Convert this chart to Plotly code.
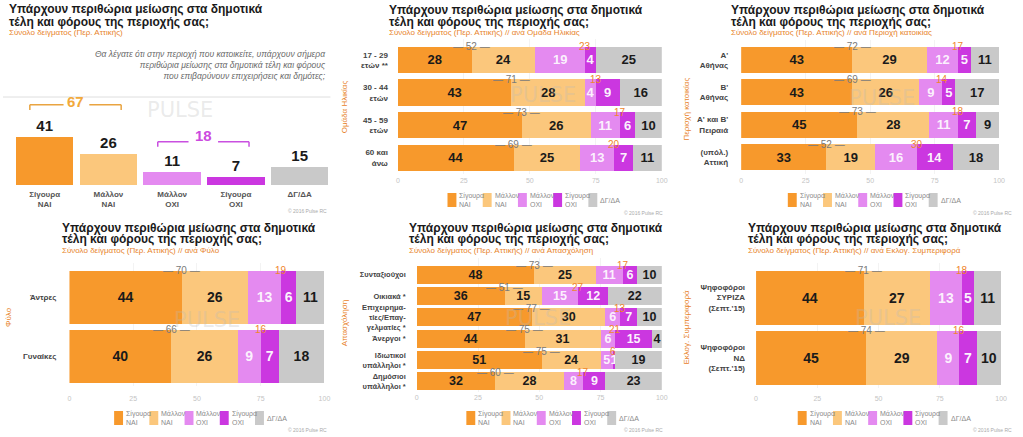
import plotly.graph_objects as go

W, H = 1023, 437
FONT = "Liberation Sans, Arial, sans-serif"

# ---------------- data ----------------
series_names = ["Σίγουρα ΝΑΙ", "Μάλλον ΝΑΙ", "Μάλλον ΟΧΙ", "Σίγουρα ΟΧΙ", "ΔΓ/ΔΑ"]
legend_labels = ["Σίγουρα<br>ΝΑΙ", "Μάλλον<br>ΝΑΙ", "Μάλλον<br>ΟΧΙ", "Σίγουρα<br>ΟΧΙ", "ΔΓ/ΔΑ"]

# Panel 1: total sample
total_categories = ["Σίγουρα<br>ΝΑΙ", "Μάλλον<br>ΝΑΙ", "Μάλλον<br>ΟΧΙ", "Σίγουρα<br>ΟΧΙ", "ΔΓ/ΔΑ"]
total_values = [41, 26, 11, 7, 15]

# Panel 2: age group
age_groups = ["17 - 29<br>ετών **", "30 - 44<br>ετών", "45 - 59<br>ετών", "60 και<br>άνω"]
age_s_nai = [28, 43, 47, 44]
age_m_nai = [24, 28, 26, 25]
age_m_oxi = [19, 4, 11, 13]
age_s_oxi = [4, 9, 6, 7]
age_dk = [25, 16, 10, 11]

# Panel 3: region
region_groups = ["Α'<br>Αθήνας", "Β'<br>Αθήνας", "Α' και Β'<br>Πειραιά", "(υπόλ.)<br>Αττική"]
region_s_nai = [43, 43, 45, 33]
region_m_nai = [29, 26, 28, 19]
region_m_oxi = [12, 9, 11, 16]
region_s_oxi = [5, 5, 7, 14]
region_dk = [11, 17, 9, 18]

# Panel 4: gender
gender_groups = ["Άντρες", "Γυναίκες"]
gender_s_nai = [44, 40]
gender_m_nai = [26, 26]
gender_m_oxi = [13, 9]
gender_s_oxi = [6, 7]
gender_dk = [11, 18]

# Panel 5: occupation
occ_groups = ["Συνταξιούχοι", "Οικιακά *", "Επιχειρημα-<br>τίες/Επαγ-<br>γελματίες *",
              "Άνεργοι *", "Ιδιωτικοί<br>υπάλληλοι *", "Δημόσιοι<br>υπάλληλοι *"]
occ_s_nai = [48, 36, 47, 44, 51, 32]
occ_m_nai = [25, 15, 30, 31, 24, 28]
occ_m_oxi = [11, 15, 6, 6, 5, 8]
occ_s_oxi = [6, 12, 7, 15, 1, 9]
occ_dk = [10, 22, 10, 4, 19, 23]

# Panel 6: vote
vote_groups = ["Ψηφοφόροι<br>ΣΥΡΙΖΑ<br>(Σεπτ.'15)", "Ψηφοφόροι<br>ΝΔ<br>(Σεπτ.'15)"]
vote_s_nai = [44, 45]
vote_m_nai = [27, 29]
vote_m_oxi = [13, 9]
vote_s_oxi = [5, 7]
vote_dk = [11, 10]

x_ticks = [0, 25, 50, 75, 100]

# ---------------- style ----------------
COLORS = ["#F7992C", "#FBC77C", "#E48AF0", "#CB37E0", "#C9C9C9"]
TEXT_COLORS = ["#1a1a1a", "#1a1a1a", "rgba(255,255,255,0.9)", "rgba(255,255,255,0.95)", "#1a1a1a"]
ORANGE_T = "#E8832A"
TITLE_L1 = "Υπάρχουν περιθώρια μείωσης στα δημοτικά"
TITLE_L2 = "τέλη και φόρους της περιοχής σας;"


def px(p):
    return p / W


def py(p):
    return 1 - p / H


fig = go.Figure()
annotations = []
shapes = []


def add_title(x, y1, y2, ys, subtitle):
    for txt, yy in ((TITLE_L1, y1), (TITLE_L2, y2)):
        annotations.append(dict(text="<b>" + txt + "</b>", x=px(x), y=py(yy), xref="paper", yref="paper",
                                xanchor="left", yanchor="middle", showarrow=False,
                                font=dict(family=FONT, size=12, color="#1a1a1a")))
    annotations.append(dict(text=subtitle, x=px(x), y=py(ys), xref="paper", yref="paper",
                            xanchor="left", yanchor="middle", showarrow=False,
                            font=dict(family=FONT, size=8, color=ORANGE_T)))


def add_watermark(x, y):
    annotations.append(dict(text="PULSE", x=px(x), y=py(y), xref="paper", yref="paper",
                            xanchor="center", yanchor="middle", showarrow=False,
                            font=dict(family="DejaVu Sans, sans-serif", size=21, color="rgba(185,185,185,0.3)")))


def add_copyright(x, y):
    annotations.append(dict(text="© 2016 Pulse RC", x=px(x), y=py(y), xref="paper", yref="paper",
                            xanchor="right", yanchor="middle", showarrow=False,
                            font=dict(family=FONT, size=5, color="#aaaaaa")))


def add_legend(x0, y0):
    step = 35.5
    for k in range(5):
        xa = x0 + k * step
        shapes.append(dict(type="rect", xref="paper", yref="paper", x0=px(xa), x1=px(xa + 9),
                           y0=py(y0 + 14), y1=py(y0), fillcolor=COLORS[k], line=dict(width=0)))
        annotations.append(dict(text=legend_labels[k], x=px(xa + 10), y=py(y0 + 7), xref="paper", yref="paper",
                                xanchor="left", yanchor="middle", align="left", showarrow=False,
                                font=dict(family=FONT, size=7, color="#8a8a8a")))


# ---------------- panel 1 (vertical bars) ----------------
fig.add_trace(go.Bar(x=total_categories, y=total_values, marker=dict(color=COLORS, line=dict(width=0)),
                     width=0.9, texttemplate="<b>%{y}</b>", textposition="outside", cliponaxis=False,
                     textfont=dict(family=FONT, size=15, color="#1a1a1a"),
                     xaxis="x", yaxis="y", showlegend=False, hoverinfo="skip"))
layout_axes = {}
layout_axes["xaxis"] = dict(domain=[px(10.9), px(332.1)], anchor="y", type="category",
                            tickfont=dict(family=FONT, size=8, color="#555555", weight="bold"),
                            ticks="", showgrid=False, zeroline=False, showline=False, ticklabelstandoff=3)
layout_axes["yaxis"] = dict(domain=[py(185), py(97)], anchor="x", range=[0, 75], visible=False)

add_title(5, 9.5, 21.5, 32.5, "Σύνολο δείγματος (Περ. Αττικής)")
annotations.append(dict(text="<i>Θα λέγατε ότι στην περιοχή που κατοικείτε, υπάρχουν σήμερα<br>"
                             "περιθώρια μείωσης στα δημοτικά τέλη και φόρους<br>"
                             "που επιβαρύνουν επιχειρήσεις και δημότες;</i>",
                        x=px(329), y=py(47), xref="paper", yref="paper", xanchor="right", yanchor="top",
                        align="right", showarrow=False, font=dict(family=FONT, size=8.5, color="#6a6a6a")))
shapes.append(dict(type="line", xref="paper", yref="paper", x0=px(1), x1=px(331), y0=py(97), y1=py(97),
                   line=dict(color="#dedede", width=1)))

nai_total = total_values[0] + total_values[1]
oxi_total = total_values[2] + total_values[3]
for (xl0, xl1, xr0, xr1, yl, ytk, ytxt, val, col, tcol) in [
    (-0.233, 0.296, 0.70, 1.2, 68.4, 64.0, 70.8, nai_total, "#E9A441", "#F2A93A"),
    (1.774, 2.257, 2.72, 3.206, 36.9, 32.6, 41.8, oxi_total, "#C950E0", "#CC4ADF"),
]:
    for seg in ((xl0, xl1), (xr0, xr1)):
        shapes.append(dict(type="line", xref="x", yref="y", x0=seg[0], x1=seg[1], y0=yl, y1=yl,
                           line=dict(color=col, width=1.5)))
    for xt in (xl0, xr1):
        shapes.append(dict(type="line", xref="x", yref="y", x0=xt, x1=xt, y0=yl, y1=ytk,
                           line=dict(color=col, width=1.5)))
    annotations.append(dict(text="<b>%d</b>" % val, x=(xl0 + xr1) / 2, y=ytxt, xref="x", yref="y",
                            xanchor="center", yanchor="middle", showarrow=False,
                            font=dict(family=FONT, size=15, color=tcol)))
add_watermark(179, 110)
add_copyright(330, 211)

# ---------------- horizontal panels ----------------
panels = [
    dict(n=2, cats=age_groups, data=[age_s_nai, age_m_nai, age_m_oxi, age_s_oxi, age_dk],
         xd=(399, 665), yd=(39.4, 174), bw=0.8, fs=13, xstand=1, ystand=9, tfs=8,
         title=(388, 10, 22, 32.5), sub="Σύνολο δείγματος (Περ. Αττικής) // ανά Ομάδα Ηλικίας",
         axt="Ομάδα Ηλικίας", axpos=(345, 107), leg=(449, 193), wm=(545, 95), cp=(668, 213)),
    dict(n=3, cats=region_groups, data=[region_s_nai, region_m_nai, region_m_oxi, region_s_oxi, region_dk],
         xd=(745, 1005), yd=(39.5, 173.5), bw=0.8, fs=13, xstand=1, ystand=12, tfs=8,
         title=(733, 10, 22, 32.5), sub="Σύνολο δείγματος (Περ. Αττικής) // ανά Περιοχή κατοικίας",
         axt="Περιοχή κατοικίας", axpos=(690, 109), leg=(792, 193), wm=(887, 98), cp=(1020, 213)),
    dict(n=4, cats=gender_groups, data=[gender_s_nai, gender_m_nai, gender_m_oxi, gender_s_oxi, gender_dk],
         xd=(68, 325), yd=(263, 386), bw=0.9, fs=14, xstand=7, ystand=12, tfs=8,
         title=(58, 227.5, 239, 250.5), sub="Σύνολο δείγματος (Περ. Αττικής) // ανά Φύλο",
         axt="Φύλο", axpos=(6, 317), leg=(113, 411), wm=(207, 320), cp=(330, 430)),
    dict(n=5, cats=occ_groups, data=[occ_s_nai, occ_m_nai, occ_m_oxi, occ_s_oxi, occ_dk],
         xd=(418, 665), yd=(258.3, 392), bw=0.85, fs=12.5, xstand=0, ystand=10, tfs=7.5,
         title=(408, 227.5, 239, 250.5), sub="Σύνολο δείγματος (Περ. Αττικής) // ανά Απασχόληση",
         axt="Απασχόληση", axpos=(345, 323), leg=(468, 411), wm=(540, 318), cp=(668, 430)),
    dict(n=6, cats=vote_groups, data=[vote_s_nai, vote_m_nai, vote_m_oxi, vote_s_oxi, vote_dk],
         xd=(760, 1007), yd=(263, 388), bw=0.9, fs=14, xstand=5, ystand=10, tfs=8,
         title=(750, 227.5, 239, 250.5), sub="Σύνολο δείγματος (Περ. Αττικής) // ανά Εκλογ. Συμπεριφορά",
         axt="Εκλογ. Συμπεριφορά", axpos=(689, 327), leg=(802, 411), wm=(893, 318), cp=(1020, 430)),
]

for p in panels:
    n = p["n"]
    xa, ya = "x%d" % n, "y%d" % n
    for k in range(5):
        fig.add_trace(go.Bar(orientation="h", y=p["cats"], x=p["data"][k], name=series_names[k],
                             marker=dict(color=COLORS[k], line=dict(width=0)), width=p["bw"],
                             texttemplate="<b>%{x}</b>", textposition="inside", insidetextanchor="middle",
                             textangle=0, constraintext="none",
                             textfont=dict(family=FONT, size=p["fs"], color=TEXT_COLORS[k]),
                             xaxis=xa, yaxis=ya, showlegend=False, hoverinfo="skip"))
    layout_axes["xaxis%d" % n] = dict(domain=[px(p["xd"][0]), px(p["xd"][1])], anchor=ya, range=[0, 100],
                                      tickvals=x_ticks, ticks="", showline=False, zeroline=False,
                                      showgrid=True, gridcolor="#f3f3f3",
                                      tickfont=dict(family=FONT, size=7, color="#c4c4c4"),
                                      ticklabelstandoff=p["xstand"])
    layout_axes["yaxis%d" % n] = dict(domain=[py(p["yd"][1]), py(p["yd"][0])], anchor=xa, type="category",
                                      autorange="reversed", ticks="", showgrid=False, zeroline=False,
                                      showline=False,
                                      tickfont=dict(family=FONT, size=p["tfs"], color="#444444", weight="bold"),
                                      ticklabelstandoff=p["ystand"])
    s_nai, m_nai, m_oxi, s_oxi, dk = p["data"]
    for i in range(len(p["cats"])):
        ytop = i - p["bw"] / 2
        nai = s_nai[i] + m_nai[i]
        oxi = m_oxi[i] + s_oxi[i]
        annotations.append(dict(text="— %d —" % nai, x=s_nai[i], y=ytop, xref=xa, yref=ya,
                                xanchor="center", yanchor="middle", showarrow=False,
                                font=dict(family=FONT, size=10, color="#7a7a7a")))
        annotations.append(dict(text="%d" % oxi, x=s_nai[i] + m_nai[i] + m_oxi[i], y=ytop, xref=xa, yref=ya,
                                xanchor="center", yanchor="middle", showarrow=False,
                                font=dict(family=FONT, size=10, color="#F0862C")))
    add_title(p["title"][0], p["title"][1], p["title"][2], p["title"][3], p["sub"])
    annotations.append(dict(text=p["axt"], x=px(p["axpos"][0]), y=py(p["axpos"][1]), xref="paper", yref="paper",
                            xanchor="center", yanchor="middle", textangle=-90, showarrow=False,
                            font=dict(family=FONT, size=8, color=ORANGE_T)))
    add_legend(*p["leg"])
    add_watermark(*p["wm"])
    add_copyright(*p["cp"])

fig.update_layout(width=W, height=H, margin=dict(l=0, r=0, t=0, b=0), barmode="stack",
                  paper_bgcolor="white", plot_bgcolor="white", showlegend=False,
                  font=dict(family=FONT), annotations=annotations, shapes=shapes, **layout_axes)

fig.write_html("out.html", config={"displayModeBar": False},
               post_script="document.body.style.margin='0';document.body.style.overflow='hidden';")
